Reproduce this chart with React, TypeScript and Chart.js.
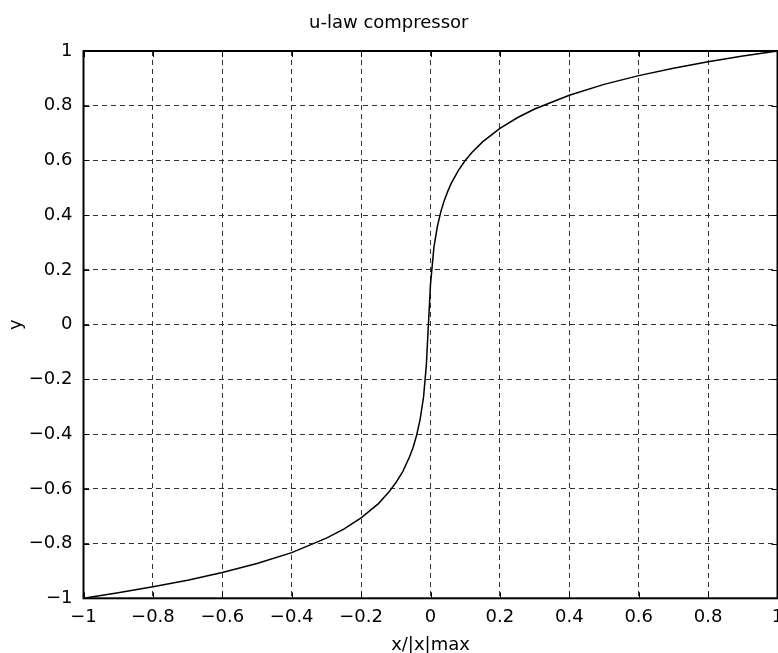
import React, { useEffect, useRef } from "react";
import { Chart, registerables } from "chart.js";

Chart.register(...registerables);

// Samples
const xValues = [
  -1, -0.9, -0.8, -0.7, -0.6, -0.5, -0.4, -0.3, -0.25, -0.2, -0.15, -0.12, -0.1,
  -0.08, -0.06, -0.05, -0.04, -0.03, -0.02, -0.012, 0, 0.01, 0.02, 0.03, 0.04,
  0.05, 0.06, 0.08, 0.1, 0.12, 0.15, 0.2, 0.25, 0.3, 0.4, 0.5, 0.6, 0.7, 0.8,
  0.9, 1,
];
const yValues = [
  -1, -0.98, -0.958, -0.934, -0.906, -0.873, -0.833, -0.78, -0.747, -0.706,
  -0.654, -0.612, -0.578, -0.537, -0.482, -0.448, -0.404, -0.347, -0.264,
  -0.148, 0.148, 0.284, 0.36, 0.414, 0.455, 0.488, 0.517, 0.563, 0.6, 0.63,
  0.668, 0.717, 0.756, 0.788, 0.838, 0.878, 0.91, 0.937, 0.961, 0.982, 1,
];
const xTicks = [-1, -0.8, -0.6, -0.4, -0.2, 0, 0.2, 0.4, 0.6, 0.8, 1];
const yTicks = [-1, -0.8, -0.6, -0.4, -0.2, 0, 0.2, 0.4, 0.6, 0.8, 1];
const chartTitle = "u-law compressor";
const xAxisTitle = "x/|x|max";
const yAxisTitle = "y";

const FONT = "'DejaVu Sans', 'Liberation Sans', Arial, sans-serif";

const fmt = (v: number) =>
  v === 0 ? "0" : (v < 0 ? "\u2212" : "") + String(Math.abs(Math.round(v * 10) / 10));

const framePlugin = {
  id: "frame",
  afterDraw(chart: any) {
    const { ctx, chartArea: a, scales } = chart;
    const len = 6;
    ctx.save();
    ctx.strokeStyle = "#000";
    ctx.lineWidth = 1;
    const seg = (x1: number, y1: number, x2: number, y2: number) => {
      ctx.beginPath();
      ctx.moveTo(x1, y1);
      ctx.lineTo(x2, y2);
      ctx.stroke();
    };
    scales.x.ticks.forEach((t: any) => {
      const px = Math.round(scales.x.getPixelForValue(t.value)) + 0.5;
      seg(px, a.bottom, px, a.bottom - len);
      seg(px, a.top, px, a.top + len);
    });
    scales.y.ticks.forEach((t: any) => {
      const py = Math.round(scales.y.getPixelForValue(t.value)) + 0.5;
      seg(a.left, py, a.left + len, py);
      seg(a.right, py, a.right - len, py);
    });
    ctx.lineWidth = 2;
    ctx.strokeStyle = "#000";
    ctx.strokeRect(a.left, a.top, a.right - a.left, a.bottom - a.top);
    ctx.restore();
  },
};

export default function App() {
  const ref = useRef<HTMLCanvasElement | null>(null);

  useEffect(() => {
    document.body.style.margin = "0";
    const canvas = ref.current;
    if (!canvas) return;
    const data = xValues.map((x, i) => ({ x, y: yValues[i] }));
    const chart = new Chart(canvas, {
      type: "line",
      data: {
        datasets: [
          {
            data,
            borderColor: "#000",
            borderWidth: 1.5,
            pointRadius: 0,
            fill: false,
            tension: 0,
          },
        ],
      },
      options: {
        responsive: false,
        animation: false,
        devicePixelRatio: 1,
        layout: { padding: { left: 0, right: 22.5, top: 0, bottom: 0 } },
        plugins: {
          legend: { display: false },
          tooltip: { enabled: false },
          title: {
            display: true,
            text: chartTitle,
            color: "#000",
            font: { family: FONT, size: 18, weight: "normal" },
            padding: { top: 13, bottom: 16.4 },
          },
        },
        scales: {
          x: {
            type: "linear",
            min: -1,
            max: 1,
            afterBuildTicks: (s: any) => {
              s.ticks = xTicks.map((v) => ({ value: v }));
            },
            afterFit: (s: any) => {
              s.height = 54.7;
            },
            ticks: {
              autoSkip: false,
              maxRotation: 0,
              color: "#000",
              padding: 8,
              font: { family: FONT, size: 18 },
              callback: (v: any) => fmt(Number(v)),
            },
            grid: { color: "#333", lineWidth: 1, drawTicks: false },
            border: { display: false, dash: [5, 4] },
            title: {
              display: true,
              text: xAxisTitle,
              color: "#000",
              font: { family: FONT, size: 18, lineHeight: 0.8 },
              padding: { top: 0, bottom: 0 },
            },
          },
          y: {
            type: "linear",
            min: -1,
            max: 1,
            afterBuildTicks: (s: any) => {
              s.ticks = yTicks.map((v) => ({ value: v }));
            },
            afterFit: (s: any) => {
              s.width = 83.5;
            },
            ticks: {
              autoSkip: false,
              color: "#000",
              padding: 11,
              font: { family: FONT, size: 18 },
              callback: (v: any) => fmt(Number(v)),
            },
            grid: { color: "#333", lineWidth: 1, drawTicks: false },
            border: { display: false, dash: [5, 4] },
            title: {
              display: true,
              text: yAxisTitle,
              color: "#000",
              font: { family: FONT, size: 18 },
              padding: { top: 6, bottom: 0 },
            },
          },
        },
      },
      plugins: [framePlugin],
    } as any);
    return () => chart.destroy();
  }, []);

  return (
    <div style={{ width: 778, height: 653, overflow: "hidden", position: "relative", background: "#fff" }}>
      <canvas ref={ref} width={800} height={653} style={{ display: "block" }} />
    </div>
  );
}
